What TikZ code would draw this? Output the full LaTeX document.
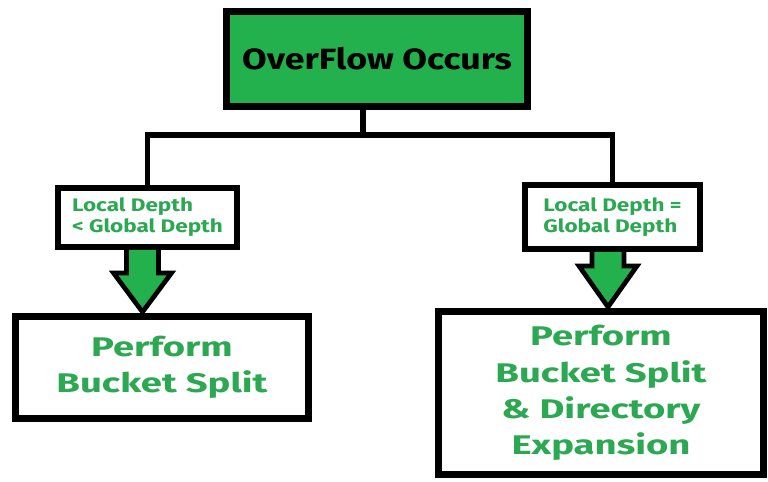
\documentclass[tikz,border=0pt]{standalone}
\usepackage{fontspec}
\setmainfont{Fira Sans}
\newfontfamily\topfont[FakeStretch=1.22]{Fira Sans}
\newfontfamily\bigfont[FakeStretch=1.42]{Fira Sans}
\newfontfamily\smallfont[FakeStretch=1.24]{Fira Sans}
\usepackage{tikz}
\usetikzlibrary{positioning,calc}

\definecolor{boxgreen}{RGB}{34,177,76}
\definecolor{textgreen}{RGB}{44,168,82}

\begin{document}
\begin{tikzpicture}[
			x=0.03cm,y=-0.03cm,
			block/.style={draw,line width=6pt,fill=white,align=center,text=textgreen,font=\bigfont\bfseries\fontsize{23}{31}\selectfont},
			cond/.style={draw,line width=5pt,fill=white,align=left,text=textgreen,font=\smallfont\bfseries\fontsize{15.5}{18}\selectfont},
			link/.style={line width=4.5pt},
			fatarrow/.style={draw,line width=4pt,fill=boxgreen,line join=miter}
			]
			\useasboundingbox (0,0) rectangle (768,481);
			
			\node[block,fill=boxgreen,text=black,font=\topfont\bfseries\fontsize{25}{31}\selectfont,minimum width=9.03cm,minimum height=2.85cm] (overflow) at (377,59)
			{OverFlow Occurs};
			
			\node[cond,minimum width=5.37cm,minimum height=1.77cm] (lcond) at (147.5,217.5)
			{Local Depth\\< Global Depth};
			
			\node[cond,minimum width=5.25cm,minimum height=1.92cm] (rcond) at (612.5,217)
			{Local Depth =\\Global Depth};
			
			\node[block,minimum width=8.79cm,minimum height=3.06cm] (lres) at (162,367.5)
			{Perform\\Bucket Split};
			
			\node[block,minimum width=9.75cm,minimum height=4.89cm] (rres) at (601,393)
			{Perform\\Bucket Split\\\& Directory\\Expansion};
			
			% branch
			\coordinate (fork) at (363,135);
			\draw[link] (overflow.south -| fork)--(fork);
			\draw[link] (lcond.north) |- (fork) -| (rcond.north);
			
			% block arrows
			\coordinate (ltail) at ($(lcond.south)+(-5,0)$);
			\coordinate (ltip) at (ltail |- lres.north);
			\draw[fatarrow] ($(ltail)+(-16,0)$) -- ($(ltip)+(-16,-40)$) -- ($(ltip)+(-29,-40)$)
			-- ($(ltip)+(0,-1)$) -- ($(ltip)+(29,-40)$) -- ($(ltip)+(16,-40)$) -- ($(ltail)+(16,0)$);
			
			\coordinate (rtail) at ($(rcond.south)+(-4.5,0)$);
			\coordinate (rtip) at (rtail |- rres.north);
			\draw[fatarrow] ($(rtail)+(-16,0)$) -- ($(rtip)+(-16,-42)$) -- ($(rtip)+(-29,-42)$)
			-- ($(rtip)+(0,-1)$) -- ($(rtip)+(29,-42)$) -- ($(rtip)+(16,-42)$) -- ($(rtail)+(16,0)$);
			
		\end{tikzpicture}
\end{document}
